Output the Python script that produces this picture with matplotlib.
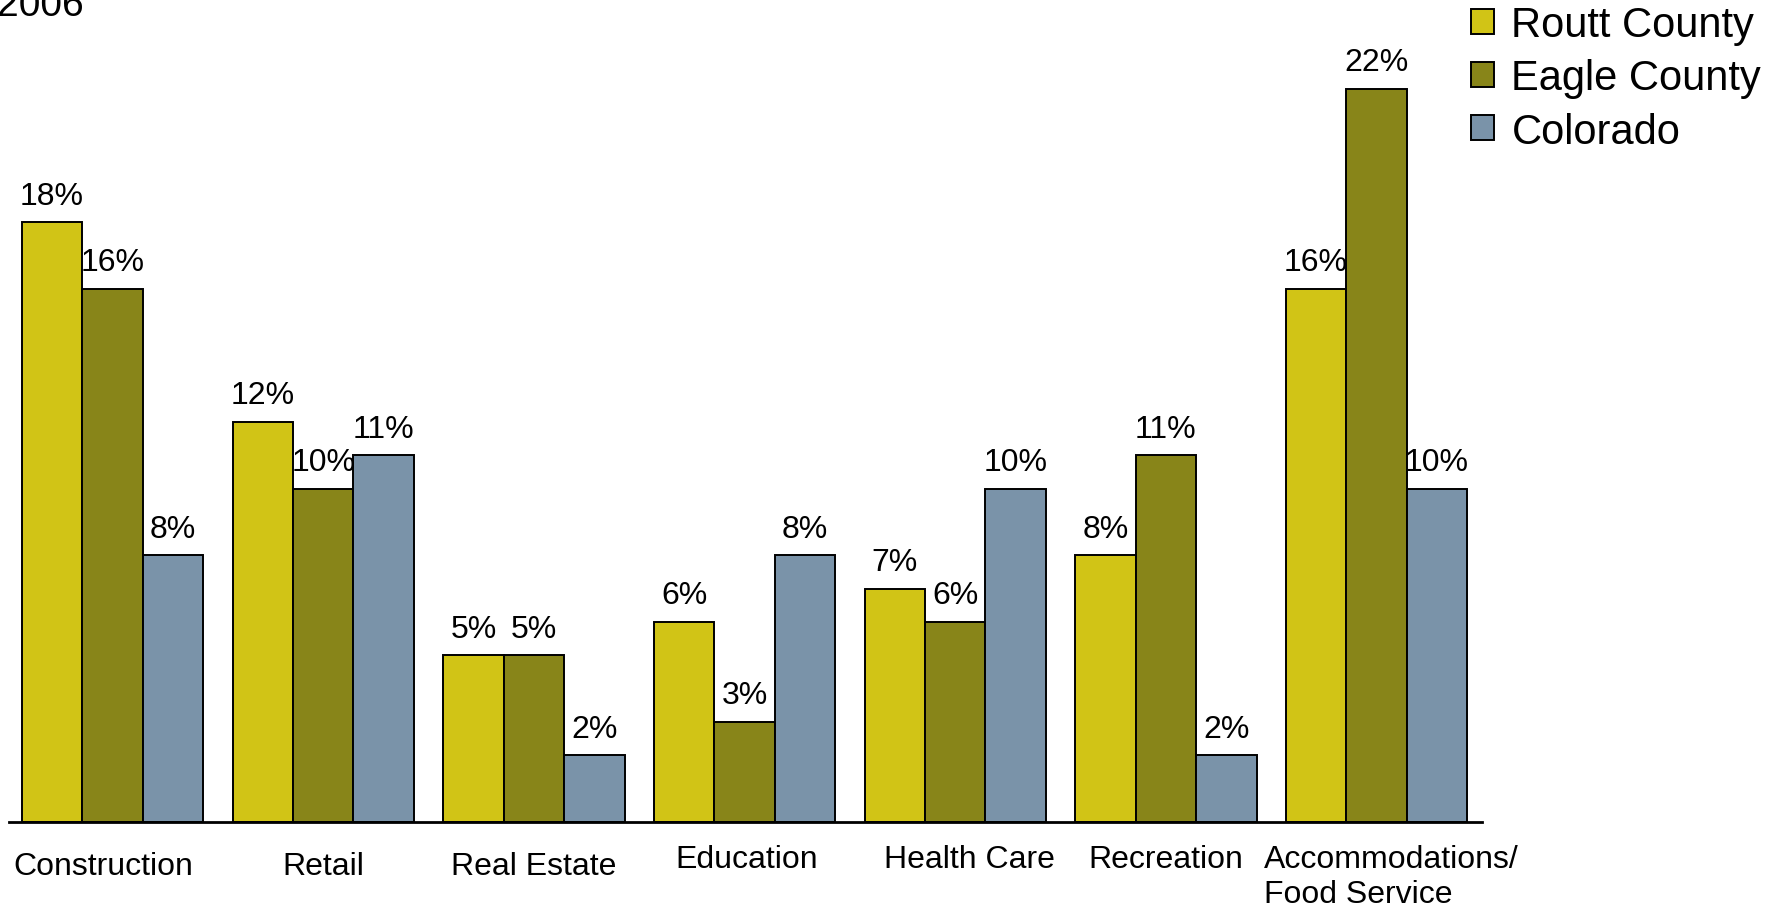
import numpy as np
import matplotlib
matplotlib.use("Agg")
import matplotlib.pyplot as plt
import matplotlib.transforms as mtransforms

categories = ["Construction", "Retail", "Real Estate", "Education",
              "Health Care", "Recreation", "Accommodations/\nFood Service"]
series = ["Routt County", "Eagle County", "Colorado"]
routt = [18, 12, 5, 6, 7, 8, 16]
eagle = [16, 10, 5, 3, 6, 11, 22]
colorado = [8, 11, 2, 8, 10, 2, 10]
colors = ["#D1C416", "#888519", "#7A93A9"]

plt.rcParams["font.family"] = "Liberation Sans"

fig = plt.figure(figsize=(17.88, 9.12), dpi=100)
ax = fig.add_axes([0.005, 0.0976, 0.824, 0.9024])

x = np.arange(len(categories))
w = 0.287
for k, (vals, col, name) in enumerate(zip([routt, eagle, colorado], colors, series)):
    xs = x + (k - 1) * w
    ax.bar(xs, vals, width=w, color=col, edgecolor="black", linewidth=1.4, label=name)
    for xi, v in zip(xs, vals):
        ax.text(xi, v + 0.35, f"{v}%", ha="center", va="bottom", fontsize=23)

ax.set_xlim(-0.492, 6.502)
ax.set_ylim(0, 24.7)
for s in ["top", "right", "left"]:
    ax.spines[s].set_visible(False)
ax.spines["bottom"].set_linewidth(2)
ax.set_yticks([])
ax.set_xticks(x)
ax.set_xticklabels(categories, fontsize=23)
ax.tick_params(axis="x", length=0, pad=16)

# nudge a few category labels (pixels) so they sit like the original slide
nudges = [(-9, -7), (0, -7), (0, -7), (2, 0), (14, 0), (0, 0), (15, 0)]
for lab, (dx, dy) in zip(ax.get_xticklabels(), nudges):
    lab.set_transform(lab.get_transform() +
                      mtransforms.ScaledTranslation(dx / 100, dy / 100, fig.dpi_scale_trans))
ax.get_xticklabels()[-1].set_multialignment("left")

fig.text(-3 / 1788, 1 - 16 / 912, "2006", fontsize=28, ha="left", va="baseline")

fig.legend(loc="upper left", bbox_to_anchor=(1471 / 1788, 1 - 6 / 912), frameon=False,
           prop={"size": 30}, borderpad=0, borderaxespad=0,
           handlelength=0.55, handleheight=0.55, handletextpad=0.42, labelspacing=0.32)

fig.savefig("out.png", dpi=100)
